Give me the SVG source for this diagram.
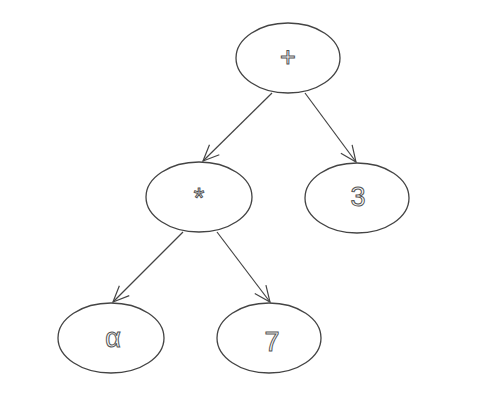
<svg xmlns="http://www.w3.org/2000/svg" width="500" height="400" viewBox="0 0 500 400">
<defs>
<style>
.node ellipse{fill:none;stroke:#444;stroke-width:1.3}
.node text{font-family:"Liberation Sans",Arial,sans-serif;font-size:27px;fill:#fff;stroke:#555;stroke-width:1;text-anchor:middle}
.edge{fill:none;stroke:#444;stroke-width:1.2}
</style>
<marker id="arr" viewBox="0 0 20 20" refX="18" refY="10" markerWidth="20" markerHeight="20" markerUnits="userSpaceOnUse" orient="auto">
<path d="M2 3 L18 10 L2 17" fill="none" stroke="#444" stroke-width="1.2"/>
</marker>
</defs>
<rect width="500" height="400" fill="#fff"/>
<g id="connectors">
<line class="edge" x1="272" y1="93" x2="203" y2="161" marker-end="url(#arr)"/>
<line class="edge" x1="305" y1="93" x2="356" y2="162" marker-end="url(#arr)"/>
<line class="edge" x1="183" y1="232" x2="113" y2="302" marker-end="url(#arr)"/>
<line class="edge" x1="217" y1="232" x2="270" y2="302" marker-end="url(#arr)"/>
</g>
<g id="node-plus" class="node"><ellipse cx="288" cy="58" rx="52" ry="35"/><text x="288" y="66" font-size="22">+</text></g>
<g id="node-times" class="node"><ellipse cx="199" cy="197" rx="53" ry="35"/><text x="199" y="207" font-size="20">*</text></g>
<g id="node-3" class="node"><ellipse cx="357" cy="198" rx="52" ry="35"/><text x="358" y="206">3</text></g>
<g id="node-alpha" class="node"><ellipse cx="111" cy="338" rx="53" ry="35"/><text x="113" y="347">α</text></g>
<g id="node-7" class="node"><ellipse cx="269" cy="338" rx="52" ry="35"/><text x="272" y="351">7</text></g>
</svg>
